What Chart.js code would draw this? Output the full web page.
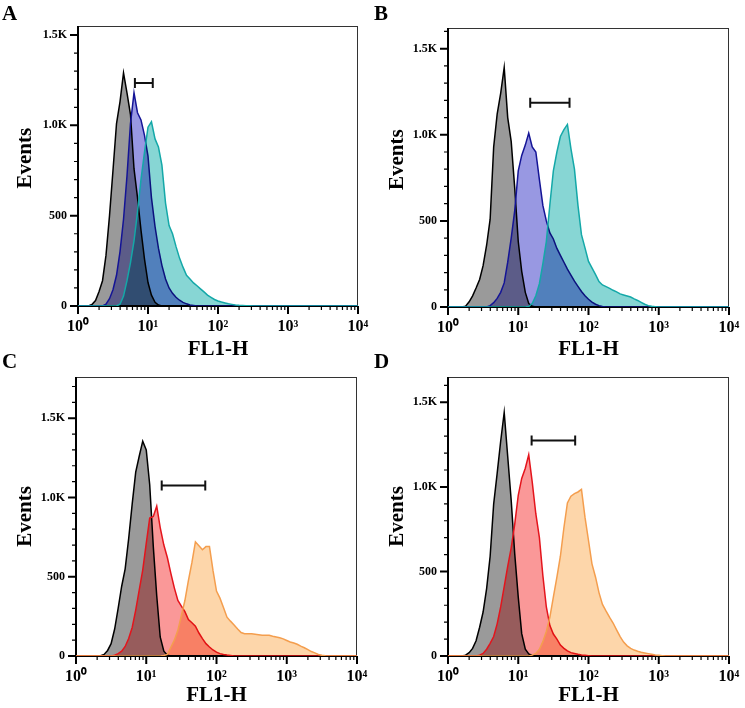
<!DOCTYPE html>
<html>
<head>
<meta charset="utf-8">
<script src="https://cdn.jsdelivr.net/npm/chart.js@4.4.1/dist/chart.umd.min.js"></script>
<style>
  body { margin: 0; background: #fff; }
  #fig { position: relative; width: 745px; height: 708px; background: #fff; overflow: hidden; }
  #fig canvas { position: absolute; }
  .panel-letter { position: absolute; font: bold 21px "Liberation Serif", serif; line-height: 1; color: #000; }
</style>
</head>
<body>
<div id="fig">
  <canvas id="panelA" width="372" height="366" style="left:0;top:0"></canvas>
  <canvas id="panelB" width="373" height="366" style="left:372px;top:0"></canvas>
  <canvas id="panelC" width="372" height="354" style="left:0;top:354px"></canvas>
  <canvas id="panelD" width="373" height="354" style="left:372px;top:354px"></canvas>
  <div class="panel-letter" style="left:2px;top:3px">A</div>
  <div class="panel-letter" style="left:374px;top:3px">B</div>
  <div class="panel-letter" style="left:2px;top:351px">C</div>
  <div class="panel-letter" style="left:374px;top:351px">D</div>
</div>
<script>
// FL1 channel (bin centres), shared by every histogram
const FL1 = [
  1, 1.12, 1.26, 1.41, 1.58, 1.78, 2, 2.24, 2.51, 2.82, 3.16, 3.55, 3.98, 4.47, 5.01, 5.62, 6.31, 7.08, 7.94, 8.91,
  10, 11.2, 12.6, 14.1, 15.8, 17.8, 20, 22.4, 25.1, 28.2, 31.6, 35.5, 39.8, 44.7, 50.1, 56.2, 63.1, 70.8, 79.4, 89.1,
  100, 112, 126, 141, 158, 178, 200, 224, 251, 282, 316, 355, 398, 447, 501, 562, 631, 708, 794, 891,
  1000, 1120, 1260, 1410, 1580, 1780, 2000, 2240, 2510, 2820, 3160, 3550, 3980, 4470, 5010, 5620, 6310, 7080, 7940, 8910,
  10000
];

const X_TICKS = [1, 10, 100, 1000, 10000];
const X_TICK_LABELS = ['10\u2070', '10\u00b9', '10\u00b2', '10\u00b3', '10\u2074'];
const X_MINOR = [2, 3, 4, 5, 6, 7, 8, 9, 20, 30, 40, 50, 60, 70, 80, 90,
  200, 300, 400, 500, 600, 700, 800, 900, 2000, 3000, 4000, 5000, 6000, 7000, 8000, 9000];
const Y_TICKS = [0, 500, 1000, 1500];
const Y_TICK_LABELS = ['0', '500', '1.0K', '1.5K'];
const Y_MINOR = [100, 200, 300, 400, 600, 700, 800, 900, 1100, 1200, 1300, 1400, 1600, 1700];

// Panel A
const GRAY_A = [
  0, 0, 0, 0, 8, 30, 80, 140, 280, 500, 750, 1010, 1130, 1290, 1180, 1060, 760, 600, 420, 260,
  130, 60, 20, 5, 0, 0, 0, 0, 0, 0, 0, 0, 0, 0, 0, 0, 0, 0, 0, 0,
  0, 0, 0, 0, 0, 0, 0, 0, 0, 0, 0, 0, 0, 0, 0, 0, 0, 0, 0, 0,
  0, 0, 0, 0, 0, 0, 0, 0, 0, 0, 0, 0, 0, 0, 0, 0, 0, 0, 0, 0,
  0
];
const BLUE_A = [
  0, 0, 0, 0, 0, 0, 0, 0, 10, 40, 90, 170, 300, 480, 720, 1010, 1180, 1070, 1030, 945,
  830, 600, 440, 320, 225, 150, 100, 70, 48, 32, 20, 12, 6, 3, 0, 0, 0, 0, 0, 0,
  0, 0, 0, 0, 0, 0, 0, 0, 0, 0, 0, 0, 0, 0, 0, 0, 0, 0, 0, 0,
  0, 0, 0, 0, 0, 0, 0, 0, 0, 0, 0, 0, 0, 0, 0, 0, 0, 0, 0, 0,
  0
];
const CYAN_A = [
  0, 0, 0, 0, 0, 0, 0, 0, 0, 0, 0, 0, 10, 55, 140, 240, 360, 520, 700, 850,
  990, 1020, 925, 880, 780, 570, 445, 400, 330, 265, 215, 170, 150, 128, 112, 95, 78, 60, 48, 36,
  28, 22, 17, 12, 9, 6, 4, 3, 2, 1, 0, 0, 0, 0, 0, 0, 0, 0, 0, 0,
  0, 0, 0, 0, 0, 0, 0, 0, 0, 0, 0, 0, 0, 0, 0, 0, 0, 0, 0, 0,
  0
];
const GATE_A = [6.5, 11.7, 1235];

// Panel B
const GRAY_B = [
  0, 0, 0, 0, 0, 5, 30, 65, 110, 160, 240, 360, 510, 930, 1120, 1240, 1390, 1100, 960, 690,
  380, 207, 85, 20, 5, 0, 0, 0, 0, 0, 0, 0, 0, 0, 0, 0, 0, 0, 0, 0,
  0, 0, 0, 0, 0, 0, 0, 0, 0, 0, 0, 0, 0, 0, 0, 0, 0, 0, 0, 0,
  0, 0, 0, 0, 0, 0, 0, 0, 0, 0, 0, 0, 0, 0, 0, 0, 0, 0, 0, 0,
  0
];
const BLUE_B = [
  0, 0, 0, 0, 0, 0, 0, 0, 0, 0, 0, 0, 8, 25, 50, 85, 140, 260, 400, 560,
  790, 880, 940, 1010, 930, 900, 740, 590, 500, 430, 395, 340, 300, 260, 220, 185, 150, 120, 90, 65,
  45, 28, 16, 8, 3, 0, 0, 0, 0, 0, 0, 0, 0, 0, 0, 0, 0, 0, 0, 0,
  0, 0, 0, 0, 0, 0, 0, 0, 0, 0, 0, 0, 0, 0, 0, 0, 0, 0, 0, 0,
  0
];
const CYAN_B = [
  0, 0, 0, 0, 0, 0, 0, 0, 0, 0, 0, 0, 0, 0, 0, 0, 0, 0, 0, 0,
  0, 0, 0, 3, 20, 65, 135, 250, 380, 595, 790, 900, 990, 1030, 1060, 920, 800, 590, 420, 343,
  265, 227, 188, 148, 128, 118, 108, 97, 88, 76, 70, 64, 58, 47, 38, 27, 16, 8, 4, 2,
  0, 0, 0, 0, 0, 0, 0, 0, 0, 0, 0, 0, 0, 0, 0, 0, 0, 0, 0, 0,
  0
];
const GATE_B = [14.8, 53.7, 1186];

// Panel C
const GRAY_C = [
  0, 0, 0, 0, 0, 0, 0, 2, 10, 35, 78, 170, 300, 440, 550, 740, 960, 1160, 1260, 1355,
  1300, 1080, 690, 380, 120, 30, 5, 0, 0, 0, 0, 0, 0, 0, 0, 0, 0, 0, 0, 0,
  0, 0, 0, 0, 0, 0, 0, 0, 0, 0, 0, 0, 0, 0, 0, 0, 0, 0, 0, 0,
  0, 0, 0, 0, 0, 0, 0, 0, 0, 0, 0, 0, 0, 0, 0, 0, 0, 0, 0, 0,
  0
];
const RED_C = [
  0, 0, 0, 0, 0, 0, 0, 0, 0, 0, 0, 5, 15, 30, 60, 110, 180, 290, 416, 542,
  711, 870, 880, 945, 810, 700, 620, 521, 430, 350, 315, 280, 230, 210, 188, 145, 110, 78, 57, 38,
  24, 15, 10, 6, 3, 0, 0, 0, 0, 0, 0, 0, 0, 0, 0, 0, 0, 0, 0, 0,
  0, 0, 0, 0, 0, 0, 0, 0, 0, 0, 0, 0, 0, 0, 0, 0, 0, 0, 0, 0,
  0
];
const ORANGE_C = [
  0, 0, 0, 0, 0, 0, 0, 0, 0, 0, 0, 0, 0, 0, 0, 0, 0, 0, 0, 0,
  0, 0, 0, 0, 0, 3, 10, 55, 100, 162, 255, 350, 475, 590, 720, 695, 670, 690, 690, 540,
  410, 365, 305, 245, 220, 196, 170, 148, 141, 141, 140, 137, 134, 131, 131, 131, 125, 120, 115, 108,
  98, 88, 82, 74, 62, 52, 40, 28, 20, 10, 5, 2, 0, 0, 0, 0, 0, 0, 0, 0,
  0
];
const GATE_C = [16.6, 69.2, 1076];

// Panel D
const GRAY_D = [
  0, 0, 0, 0, 0, 5, 20, 45, 90, 170, 260, 400, 590, 900, 1080, 1270, 1440, 1180, 920, 604,
  348, 132, 40, 12, 3, 0, 0, 0, 0, 0, 0, 0, 0, 0, 0, 0, 0, 0, 0, 0,
  0, 0, 0, 0, 0, 0, 0, 0, 0, 0, 0, 0, 0, 0, 0, 0, 0, 0, 0, 0,
  0, 0, 0, 0, 0, 0, 0, 0, 0, 0, 0, 0, 0, 0, 0, 0, 0, 0, 0, 0,
  0
];
const RED_D = [
  0, 0, 0, 0, 0, 0, 0, 0, 0, 5, 15, 40, 75, 115, 190, 290, 410, 530, 640, 780,
  950, 1050, 1110, 1190, 1030, 840, 700, 476, 290, 180, 130, 100, 65, 45, 30, 20, 15, 10, 6, 4,
  2, 0, 0, 0, 0, 0, 0, 0, 0, 0, 0, 0, 0, 0, 0, 0, 0, 0, 0, 0,
  0, 0, 0, 0, 0, 0, 0, 0, 0, 0, 0, 0, 0, 0, 0, 0, 0, 0, 0, 0,
  0
];
const ORANGE_D = [
  0, 0, 0, 0, 0, 0, 0, 0, 0, 0, 0, 0, 0, 0, 0, 0, 0, 0, 0, 0,
  0, 0, 0, 0, 5, 15, 40, 85, 145, 230, 348, 466, 590, 760, 905, 945, 960, 970, 985, 821,
  683, 545, 466, 375, 305, 265, 228, 195, 155, 115, 82, 60, 45, 35, 28, 22, 18, 14, 10, 6,
  4, 2, 0, 0, 0, 0, 0, 0, 0, 0, 0, 0, 0, 0, 0, 0, 0, 0, 0, 0,
  0
];
const GATE_D = [15.5, 64.6, 1275];

const FONT = "'Liberation Serif', 'Times New Roman', serif";

const GRAY = { fill: 'rgb(154,154,154)', line: '#000000' };
const BLUE = { fill: 'rgb(152,152,226)', line: 'rgb(20,20,150)' };
const CYAN = { fill: 'rgb(135,214,212)', line: 'rgb(20,168,168)' };
const RED = { fill: 'rgb(250,152,152)', line: 'rgb(228,20,28)' };
const ORANGE = { fill: 'rgb(253,214,170)', line: 'rgb(244,158,78)' };

// frame, ticks and the gate bar; fills are multiplied like overlaid histograms
const flowFrame = {
  id: 'flowFrame',
  beforeDatasetsDraw(chart) {
    const { ctx, chartArea: a, scales: { x, y } } = chart;
    ctx.save();
    ctx.strokeStyle = '#333';
    ctx.lineWidth = 1;
    ctx.strokeRect(a.left, a.top + 0.5, a.width - 0.5, a.height);

    ctx.strokeStyle = '#000';
    ctx.lineWidth = 2;
    ctx.beginPath();
    ctx.moveTo(a.left, a.top);
    ctx.lineTo(a.left, a.bottom);
    ctx.lineTo(a.right, a.bottom);
    X_TICKS.forEach(v => {
      const p = x.getPixelForValue(v);
      ctx.moveTo(p, a.bottom);
      ctx.lineTo(p, a.bottom + 8);
    });
    Y_TICKS.forEach(v => {
      if (v > y.max) return;
      const p = y.getPixelForValue(v);
      ctx.moveTo(a.left, p);
      ctx.lineTo(a.left - 8, p);
    });
    ctx.stroke();

    ctx.lineWidth = 1.2;
    ctx.beginPath();
    X_MINOR.forEach(v => {
      const p = x.getPixelForValue(v);
      ctx.moveTo(p, a.bottom);
      ctx.lineTo(p, a.bottom + 4);
    });
    Y_MINOR.forEach(v => {
      if (v > y.max) return;
      const p = y.getPixelForValue(v);
      ctx.moveTo(a.left, p);
      ctx.lineTo(a.left - 4, p);
    });
    ctx.stroke();
    ctx.restore();

    ctx.save();
    ctx.globalCompositeOperation = 'multiply';
  },
  // the filler has already painted this dataset's area; draw its outline normally
  beforeDatasetDraw(chart) {
    chart.ctx.globalCompositeOperation = 'source-over';
  },
  afterDatasetDraw(chart) {
    chart.ctx.globalCompositeOperation = 'multiply';
  },
  afterDatasetsDraw(chart, args, opts) {
    const { ctx, scales: { x, y } } = chart;
    ctx.restore();
    const g = opts.gate;
    if (!g) return;
    const x1 = x.getPixelForValue(g[0]);
    const x2 = x.getPixelForValue(g[1]);
    const py = y.getPixelForValue(g[2]);
    ctx.save();
    ctx.strokeStyle = '#111';
    ctx.lineWidth = 2;
    ctx.beginPath();
    ctx.moveTo(x1, py); ctx.lineTo(x2, py);
    ctx.moveTo(x1, py - 5); ctx.lineTo(x1, py + 5);
    ctx.moveTo(x2, py - 5); ctx.lineTo(x2, py + 5);
    ctx.stroke();
    ctx.restore();
  }
};

function drawPanel(id, p) {
  new Chart(document.getElementById(id), {
    type: 'line',
    data: {
      labels: FL1,
      datasets: p.series.map((s, i) => ({
        data: s.data,
        borderColor: s.style.line,
        backgroundColor: s.style.fill,
        fill: 'origin',
        borderWidth: 1.5,
        pointRadius: 0,
        tension: 0,
        order: p.series.length - i
      }))
    },
    options: {
      responsive: false,
      animation: false,
      devicePixelRatio: 1,
      events: [],
      layout: { padding: { top: p.padTop, right: p.padRight, left: 0, bottom: 0 } },
      plugins: {
        legend: { display: false },
        tooltip: { enabled: false },
        flowFrame: { gate: p.gate }
      },
      scales: {
        x: {
          type: 'logarithmic',
          min: 1,
          max: 10000,
          border: { display: false },
          grid: { display: false, tickLength: 8 },
          afterBuildTicks: ax => { ax.ticks = X_TICKS.map(v => ({ value: v })); },
          afterFit: ax => { ax.height = p.xHeight; },
          ticks: {
            autoSkip: false, maxRotation: 0, padding: 3, color: '#000',
            font: { family: FONT, size: 16, weight: 'bold' },
            callback: v => X_TICK_LABELS[X_TICKS.indexOf(v)]
          },
          title: {
            display: true, text: 'FL1-H', color: '#000',
            font: { family: FONT, size: 21, weight: 'bold' },
            padding: { top: 0, bottom: p.xTitlePad }
          }
        },
        y: {
          min: 0,
          max: p.yMax,
          border: { display: false },
          grid: { display: false, tickLength: 8 },
          afterBuildTicks: ax => { ax.ticks = Y_TICKS.filter(v => v <= p.yMax).map(v => ({ value: v })); },
          afterFit: ax => { ax.width = p.yWidth; },
          ticks: {
            padding: 3, color: '#000',
            font: { family: FONT, size: 12, weight: 'bold' },
            callback: v => Y_TICK_LABELS[Y_TICKS.indexOf(v)]
          },
          title: {
            display: true, text: p.yTitle, color: '#000',
            font: { family: FONT, size: 21, weight: 'bold' },
            padding: { top: 13, bottom: 0 }
          }
        }
      }
    },
    plugins: [flowFrame]
  });
}

drawPanel('panelA', {
  series: [{ data: GRAY_A, style: GRAY }, { data: BLUE_A, style: BLUE }, { data: CYAN_A, style: CYAN }],
  gate: GATE_A, yMax: 1550, yWidth: 78, padTop: 26, padRight: 14, xHeight: 60, xTitlePad: 4,
  yTitle: '   Events'
});
drawPanel('panelB', {
  series: [{ data: GRAY_B, style: GRAY }, { data: BLUE_B, style: BLUE }, { data: CYAN_B, style: CYAN }],
  gate: GATE_B, yMax: 1620, yWidth: 76, padTop: 28, padRight: 16, xHeight: 59, xTitlePad: 4,
  yTitle: '   Events'
});
drawPanel('panelC', {
  series: [{ data: GRAY_C, style: GRAY }, { data: RED_C, style: RED }, { data: ORANGE_C, style: ORANGE }],
  gate: GATE_C, yMax: 1760, yWidth: 76, padTop: 23, padRight: 15, xHeight: 52, xTitlePad: 0,
  yTitle: 'Events'
});
drawPanel('panelD', {
  series: [{ data: GRAY_D, style: GRAY }, { data: RED_D, style: RED }, { data: ORANGE_D, style: ORANGE }],
  gate: GATE_D, yMax: 1650, yWidth: 76, padTop: 23, padRight: 16, xHeight: 52, xTitlePad: 0,
  yTitle: 'Events'
});
</script>
</body>
</html>
